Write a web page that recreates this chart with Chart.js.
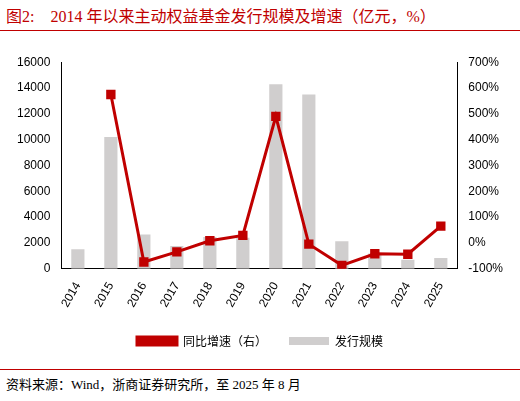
<!DOCTYPE html>
<html><head><meta charset="utf-8">
<script src="https://cdn.jsdelivr.net/npm/chart.js@4"></script>
<style>
body{margin:0;width:520px;height:401px;background:#fff;font-family:"Noto Sans CJK SC","Liberation Serif",serif;position:relative;overflow:hidden}
#title{position:absolute;left:6px;top:3px;font-size:16px;color:#c00000;font-family:"Liberation Serif","Noto Sans CJK SC",serif}
#rule1{position:absolute;left:0;top:30px;width:520px;border-top:1px solid #c00000}
#rule2{position:absolute;left:0;top:369px;width:520px;border-top:1px solid #c00000}
#src{position:absolute;left:6px;top:374px;font-size:13px;color:#000;font-family:"Liberation Serif","Noto Sans CJK SC",serif}
#wrap{position:absolute;left:10px;top:52px;width:500px;height:305px}
</style></head><body>
<div id="title">图2:&nbsp;&nbsp;&nbsp;&nbsp;2014 年以来主动权益基金发行规模及增速（亿元，%）</div>
<div id="rule1"></div>
<div id="wrap"><canvas id="c"></canvas></div>
<div id="rule2"></div>
<div id="src">资料来源：Wind，浙商证券研究所，至 2025 年 8 月</div>
<script>
const years = ['2014','2015','2016','2017','2018','2019','2020','2021','2022','2023','2024','2025'];
const issuance = [1500,10200,2650,1750,2450,2400,14300,13500,2130,1170,700,830];
const growth = [null,575,-74,-35,8,29,490,-5,-87,-42,-44,65];
new Chart(document.getElementById('c'), {
  data: {
    labels: years,
    datasets: [
      {type:'bar', label:'发行规模', data:issuance, yAxisID:'y', backgroundColor:'#d0cece', categoryPercentage:0.8, barPercentage:0.5, order:1},
      {type:'line', label:'同比增速（右）', data:growth, yAxisID:'y1', borderColor:'#c00000', backgroundColor:'#c00000', borderWidth:3, pointStyle:'rect', pointRadius:4.5, order:0}
    ]
  },
  options: {
    responsive:true, maintainAspectRatio:false, animation:false,
    layout:{padding:{left:4,right:4,top:6}},
    plugins:{legend:{position:'bottom', labels:{boxWidth:40, boxHeight:8, color:'#000', font:{size:12, family:'"Noto Sans CJK SC"'}, padding:22}}},
    scales:{
      x:{grid:{display:false}, border:{color:'#000'}, ticks:{color:'#000', font:{size:12, family:'"Liberation Sans"'}, maxRotation:60, minRotation:60}},
      y:{min:0,max:16000, ticks:{stepSize:2000, color:'#000', font:{size:12, family:'"Liberation Sans"'}, callback:v=>String(v)}, grid:{display:false}, border:{color:'#000'}},
      y1:{position:'right', min:-100,max:700, ticks:{stepSize:100, color:'#000', font:{size:12, family:'"Liberation Sans"'}, callback:v=>v+'%'}, grid:{display:false}, border:{color:'#000'}}
    }
  }
});
</script></body></html>
